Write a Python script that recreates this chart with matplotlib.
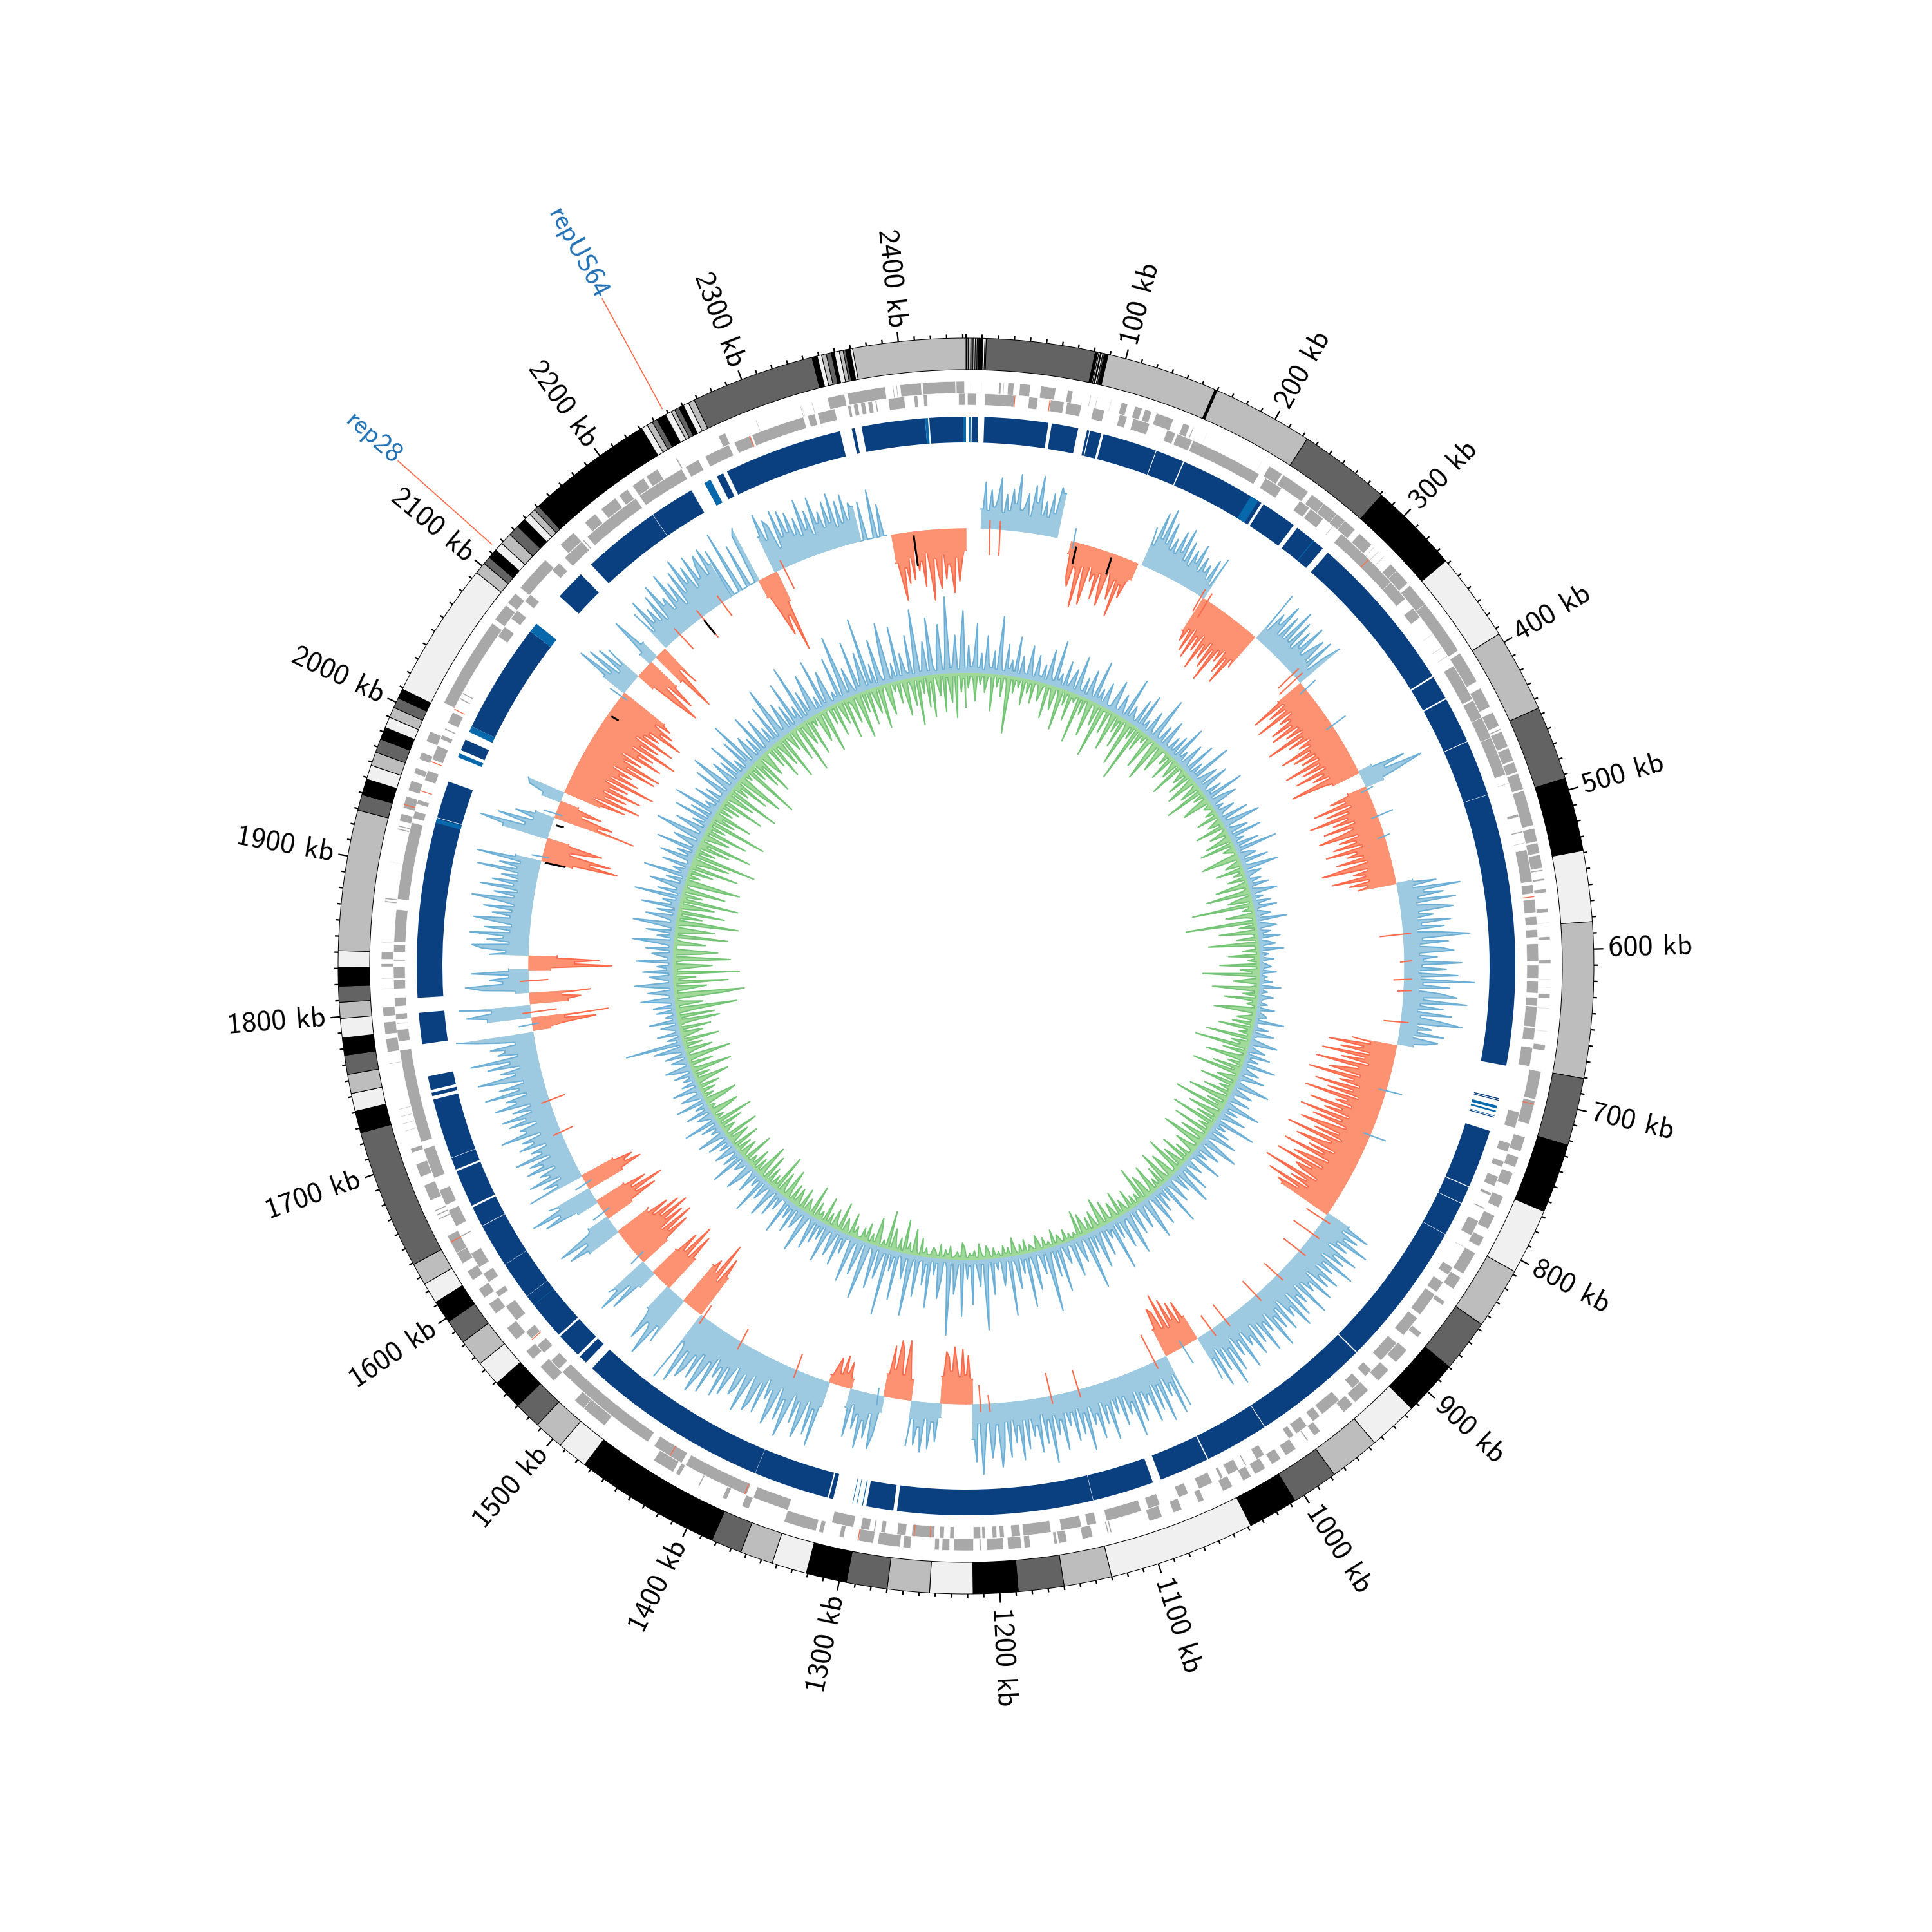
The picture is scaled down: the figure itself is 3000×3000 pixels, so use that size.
import numpy as np
import matplotlib
matplotlib.use("Agg")
import matplotlib.pyplot as plt

GENOME = 2442.0  # kb

# --- outer band: end of each stretch in kb and its shade (k black, d dark, m mid, l light)
band_ends = [0.8,1.5,3,4.5,5.8,7,8,10.5,11.8,12.6,
             80.7,
             82.3,83,84,84.5,85.5,86.5,87,88.9,
             158.5,160,223.3,
             281,338,394,446,492.5,538.6,583,680.6,723,766.6,808,846.6,879.7,914.4,945.6,977.4,1006.7,1038,1130,1160,1188.6,1216.6,
             1243.6,1270,1295.6,1321,1343,1363.6,1383,1474.8,1494,1513,1530,1549,1565,1582,1597.5,1611.8,1625,1639,
             1727,1740.7,1752,1764,1776,1786.8,1799,1809,1819,1830.8,1841,1929,1939,1949,1958,1966.6,1975.3,1983,1989.9,
             1996.5,2003,2009,2094.7,2102,2107,2113,2118.5,2126,2133,2139,2143.6,2147.6,2151,2231,
             2235,2238.7,2242,2248,2252,2254.5,2257.5,2260.5,2264,2268,
             2345.7,2349,2351.8,2354.7,2357.9,2359.8,2363,2365.4,2366.9,2369.8,2371.4,2442]
band_shades = ("klmdlmdklm"
               "d"
               "klmkldlk"
               "mkm"
               "dklmdklmdklmdklmdklmdk"
               "lmdklmdklmdklmdklm"
               "dklmdklmdklmdklmdklmdk"
               "lmdklmdklmdk"
               "lmdklmdklm"
               "dklmdklmdklm")

# --- blue contig ring, kb
contigs = [(4.1,8.6),(13,58.6),(61,80),(86.4,88),(88.6,96.7),(98.4,137.2),(137.7,158),(158.8,220.7),(222.5,248.4),
           (251.5,274.8),(279.5,394.2),(395.4,412.4),(413.4,446.6),(447.1,487),(487.3,681.4),(705,705.7),(706.2,706.8),
           (718.6,719.2),(729,771),(771.6,784),(784.4,808.7),(809,913.2),(914,997.2),(997.7,1043.4),(1044.2,1080),
           (1086,1130),(1130.3,1270),(1272.6,1292),(1316,1319),(1320,1374),(1374.2,1512),(1518,1524),(1526,1544),
           (1545.5,1580.8),(1581,1608),(1608.2,1639.6),(1640,1654.6),(1656,1682.6),(1684,1692.6),(1692.9,1736),
           (1738.5,1741),(1743,1752.8),(1776,1798.3),(1809,1937.6),(1938,1964.6),(1988.5,1996.6),(2007,2086),
           (2118.4,2140),(2150,2206),(2206.3,2238.5),(2259,2264),(2267,2352),(2360.5,2362.7),(2367.6,2413),(2416,2440)]
contigs_light = [(2,3.2),(211.7,218),(266,266.6),(710.5,712.5),(714,715.2),(717.7,718.1),(1294.4,1295),(1298.6,1299),
                 (1301.6,1302),(1573,1573.3),(1934,1937),(1983,1986),(2002.6,2007),(2086,2093),(2249,2254),(2413,2415),(2440,2442)]

# --- gene lanes, kb
genes_outer = [(3,3.3),(10,10.4),(22,23.5),(25,25.5),(28,32),(36,43),(50,60),(68,71.6),(83.5,84),(88,88.5),(97.6,98),
    (104.7,109),(114,119),(121,125.7),(129,141),(148,152.8),(155,155.8),(165,165.3),(206,206.3),(212,222),(223,243),
    (246,257),(256,271),(267,278),(274,283),(287,298),(300,300.5),(304,304.5),(309,309.5),(316,324),(322,333),(335,354),
    (351,389),(391,413),(418,432),(436,446),(448,449),(450,461),(462,471),(472,479),(480,491),(492,516),(518,527),(528,535),
    (536,545),(546,547),(552,553.4),(559,561.4),(572,574.6),(581.5,582),(591,593),(606.5,609),(619.3,619.7),(624.5,624.9),
    (629,632),(638.5,638.9),(653.9,654.3),(663,667),(681,700),(701,717),(726,736),(740,747),(751,760),(768,776),(782,792),
    (798,805),(810,826),(829,838),(848,851),(874,878),(889,900),(907,917),(926,938),(940,948),(968,973),(978,979),(988,996),
    (1000,1007),(1012,1020),(1023,1029),(1037,1044),(1058,1062),(1074,1080),(1088,1097),(1123,1124),(1125,1126),(1136,1143),
    (1153.5,1159),(1160,1162),(1178,1182),(1184,1193),(1196,1207),(1211,1212),(1216,1229),(1232,1237),(1239,1242),(1258,1263),
    (1265,1280),(1283,1293),(1303,1306),(1317,1320),(1322,1344),(1369,1374),(1385,1388),(1405,1406),(1420,1423),(1425,1440),
    (1480,1498),(1498,1506),(1525,1538),(1545,1552),(1562,1572),(1584,1592),(1597,1604),(1611,1618),(1624,1636),(1632,1645),
    (1657,1658),(1660,1661),(1663,1664),(1671,1682),(1688,1697),(1705,1708),(1720,1720.5),(1725,1725.5),(1730,1730.5),
    (1735,1735.5),(1766,1766.5),(1774,1783),(1786,1794),(1798,1804),(1816,1816.5),(1823,1823.5),(1831,1833),(1836,1841),
    (1847,1847.4),(1874,1875),(1876,1877),(1901,1901.3),(1923,1924),(1925,1926),(1929,1934),(1938,1946),(1950,1957),
    (1962,1966),(1972,1977),(1985,1992),(2013,2075),(2078,2090),(2092,2100),(2105,2130),(2144,2156),(2166,2175),(2180,2192),
    (2195,2202),(2206,2215),(2217,2226),(2240,2241),(2272,2277),(2299,2299.5),(2330,2330.5),(2331,2331.4),(2338,2338.5),
    (2349,2360.5),(2362.5,2388),(2393,2393.6),(2395.4,2396),(2398,2412),(2413,2435),(2435.5,2441)]
genes_inner = [(1,7),(13,33),(43,49),(57.7,67),(69,79),(87.3,95),(105.7,111),(115.4,127),(139.6,145.7),(147,158),(158.7,209),
    (214,227),(242,250),(251,262),(270,270.5),(278,327),(325,340),(348,356),(370,370.4),(381,381.5),(388,388.5),(396,422),
    (423,437),(436,452),(451,478),(484,484.5),(506,508),(518,519),(526,526.5),(531,553),(555,561),(565,574),(576.8,582.5),
    (585.7,591),(595.4,607.4),(610,619),(621,629),(632,637.7),(638,652),(652.8,661),(666,679),(711,722),(733,739),(746,750),
    (757,764),(769,771),(780,781),(790,801),(810,810.5),(826,832),(838,846),(848,865),(868,883),(890,906),(915,921),(926,933),
    (945,960),(962,968),(973,982),(984,988),(1008,1014),(1022,1023),(1028,1036),(1040,1042),(1048,1058),(1066,1073),
    (1086.6,1095),(1100,1124.5),(1131.6,1138),(1142,1156),(1163,1182),(1184,1190),(1195,1198),(1200,1203),(1208,1210),
    (1211,1216),(1229,1232),(1236,1239),(1242.6,1258),(1262,1268),(1276,1279),(1283,1284),(1287,1293),(1298,1313),(1344,1369),
    (1374,1420),(1423,1445),(1450,1525),(1528,1536),(1543,1550),(1556,1562),(1572,1584),(1592,1596),(1604,1611),(1616,1627),
    (1640,1641),(1648,1660),(1664,1675),(1684,1705),(1710,1774),(1780,1788),(1792,1792.5),(1795,1799),(1804,1810),(1816,1822),
    (1823,1831),(1835,1836),(1841,1846),(1848,1870),(1877,1930),(1933,1938),(1943,1946),(1960,1967),(1975,1985),(1990,1993),
    (1997,1998),(2002,2010),(2020,2021),(2024,2025),(2070,2078),(2085,2092),(2100,2106),(2128,2135),(2140,2156),(2157,2158),
    (2161,2203),(2206,2240),(2243,2253),(2258,2276),(2280,2292),(2293,2330),(2333,2338),(2340,2352),(2361,2363),(2365,2368),
    (2370,2373),(2375,2378),(2380,2381),(2389,2400),(2406.6,2409),(2413,2415.5),(2437,2441.5)]
genes_red_outer = [703,1293,1640,1940]
genes_red_inner = [33,57,303,563,1245,1256,1375,1432,1555,1952,1973,2012,2291]

# --- GC content track, one list of deviations per stretch
gc_starts = [13.7,95,160,223,281,338,432,447,537,681,844,1006,1037,1216,1244,1271,1295,1325,1345,1475,1493,1512,1530,1544,1579,
             1594,1611,1625,1637,1775,1787,1799,1809,1829,1841,1927,1947,1966,1982,1991,2094,2114,2129,2137,2148,2221,2251,2267,2349,2376]
gc_ends = [80.5,156,223,280,337,432,446,537,679,844,1005,1036,1215,1243,1270,1294,1324,1344,1474,1493,1512,1530,1544,1579,1594,
           1611,1625,1637,1773,1786,1797,1808,1828,1840,1925,1946,1965,1981,1990,2093,2113,2129,2136,2147,2221,2251,2267,2347,2370,2441]
gc_up = [True,False,True,False,True,False,True,False,True,False,True,False,True,False,True,False,True,False,True,False,True,False,
         True,False,True,False,True,False,True,False,True,False,True,False,True,False,True,False,True,False,True,False,True,False,
         True,True,False,True,True,False]
gc_values = [
 [30,72,28,60,34,45,80,26,55,30,64,42,88,33,38,60,25,74,48,90,30,52,28,66,36,78,70],
 [20,55,70,38,45,100,34,62,92,30,52,40,78,36,60,85,30,44,70,38,95,42,62,33,28],
 [62,35,90,50,100,46,82,40,60,38,76,44,85,34,68,30,58,40,72,30,56,34,48,26,62,20,70],
 [60,75,52,88,46,95,55,78,48,104,60,82,50,92,58,110,52,70,46,84,55,98,50,62],
 [85,20,55,40,78,26,65,28,85,30,72,25,62,35,80,30,48,68,28,75,22,55,80],
 [45,95,40,72,44,100,40,65,48,85,52,90,44,70,42,108,48,75,40,62,45,98,50,82,46,72,44,105,48,80,42,95,50,70,44,110,60,45],
 [22,75,40,100,60,30],
 [30,62,38,92,32,75,40,105,45,70,36,88,42,60,100,38,70,44,82,36,96,48,64,40,84,36,70,110,38,62,44,98,40,72,45,60],
 [26,62,24,98,40,70,30,88,25,55,82,28,50,24,76,30,65,22,60,104,30,70,25,58,78,24,52,30,90,28,66,22,84,26,110,30,72,24,58,
  84,32,100,28,64,24,78,30,60,96,26,50,28,70,22,62,45,25],
 [70,40,105,50,85,38,112,44,80,36,118,50,70,95,44,125,52,74,40,110,48,88,36,122,52,70,42,108,55,82,40,118,48,95,38,70,110,
  44,84,36,125,50,66,105,38,80,52,118,40,70,96,44,120,58,84,72,42,130,55,80,48,115,60,95,85],
 [40,78,35,66,44,90,38,60,28,84,46,68,30,92,40,62,34,80,48,70,30,85,44,58,35,92,30,62,44,78,30,90,50,65,28,80,36,70,44,95,
  30,60,40,88,34,66,28,80,44,58,30,90,38,62,28,82,40,100,32,70,28,90,40,74],
 [40,68,35,72,45,82,36,95,40,70,78,45],
 [85,30,92,40,60,28,96,35,74,30,88,42,58,35,80,30,100,44,62,32,76,28,55,30,92,36,64,28,84,44,60,30,98,38,70,28,78,32,52,30,
  88,40,62,30,104,36,72,25,84,42,58,30,76,30,92,38,64,28,86,30,70,100,34,60,85,30,55,110,30,90,55],
 [38,75,45,85,42,60,88,50,72,80,42],
 [22,60,30,72,25,78,40,68,28,70],
 [32,55,92,38,75,90,44,80,35],
 [25,62,85,30,70,44,88,36,60,22,75,30],
 [15,40,22,48,18,42,25,12],
 [40,105,48,90,38,70,100,44,80,36,62,108,50,85,34,70,98,44,62,30,88,40,76,92,36,58,100,40,68,80,36,54,88,44,96,50,70,40,
  102,52,78,110,48,92,56,84,100,58,115,60,50,120],
 [70,100,55,120,65,85,72],
 [80,55,112,70,62,95,55,45],
 [60,98,55,110,58,88,50],
 [30,80,40,95,60,70],
 [50,95,62,110,55,100,70,115,68,105,60,90,55,60],
 [55,85,50,95,40,35],
 [45,92,60,110,58,85,50],
 [35,88,60,105,55,70],
 [60,95,70,85,55],
 [90,40,62,30,80,44,58,30,75,46,66,30,85,40,55,28,70,45,62,30,92,50,58,30,72,44,80,32,60,30,85,50,65,30,95,40,70,30,55,100,
  40,62,30,80,44,105,30,60,48,70,30,55,90,120],
 [28,50,100,52,120],
 [68,100,60,110],
 [60,80,50,95],
 [20,72,98,40,60,30,88,30],
 [35,130,72,110,45],
 [60,35,72,88,30,65,40,92,30,70,28,52,88,32,60,30,75,28,48,95,30,62,26,85,34,68,28,55,30,95,34,62,30,100,40],
 [50,120,75,108,40,62,90,35],
 [72,110,40,85,30,60,30],
 [130,70,92,40,70,30],
 [30,55,60],
 [60,100,45,120,60,95,55,115,60,90,50,130,55,100,65,85,50,120,70,125,60,88,52,118,75,100,60,135,70,100,55,120,65,90,70,125,85,105,70,95,80],
 [40,90,35,80,25,70,30,60],
 [30,70,110,45,92,55],
 [20,80,30],
 [55,110,40,70],
 [70,30,85,40,62,35,78,30,90,50,60,35,95,42,72,30,85,45,100,55,80,40,92,50,70,85,48,90,60],
 [0,80,0,0,100,0,0,70,0,0,80,90],
 [30,55,100,70,130,50],
 [60,95,50,80,70,30,90,45,85,48,78,40,65,35,92,42,70,30,88,45,62,35,75,40,85,30,70,34,78,36,62,55],
 [0,60,0,0,75,0,50,0],
 [45,70,105,55,80,40,75,30,62,48,88,35,60,110,45,70,92,40,78,55,64,100,45,82,50,35]]

# thin red and blue spikes crossing the other colour, and the few black ones (kb, length)
gc_red_kb = [21,30,220,227,327,332,582,606,622,632,660,850,866,885,914,940,975,990,1048,1120,1145,1200,1208,1375,1430,1470,1680,1710,1790,1818,2165,2190,2212,2275]
gc_red_len = [40,40,25,30,30,35,35,5,15,8,25,30,35,30,25,28,28,25,45,30,35,12,28,25,22,20,20,25,40,30,30,40,25,35]
gc_blue_kb = [97,345,385,450,475,494,723,765,1020,1300,1550,1600,1630,1780,1930,1970,2090]
gc_blue_len = [20,20,25,10,25,8,25,25,30,15,15,20,18,20,15,18,20]
gc_black_kb = [100,133,2395,1925,1960,2070,2190]
gc_black_len = [25,25,45,30,10,10,25]

# --- GC skew track, above and below the ring
skew_above = [
 6,42,9,18,76,8,30,5,58,14,9,35,7,90,16,6,48,11,24,8,62,5,33,12,7,52,18,6,40,10,
 9,28,6,54,14,8,72,11,22,5,44,7,19,36,6,60,12,8,30,5,46,16,7,66,9,24,6,38,13,5,
 7,50,10,6,34,16,5,68,8,26,12,6,44,7,58,9,20,5,40,11,6,72,14,7,32,5,48,10,6,28,
 8,36,5,60,10,22,6,42,14,7,54,5,26,9,70,6,18,38,7,50,12,5,30,8,62,6,24,44,5,16,
 6,30,10,5,46,8,24,60,6,14,34,5,52,9,20,6,40,7,66,5,18,28,8,44,6,12,56,5,26,10,
 5,22,7,32,4,14,42,6,18,5,28,9,36,4,12,24,6,48,5,16,30,4,20,8,34,5,14,26,6,38,
 4,14,6,22,4,10,18,5,26,4,12,7,20,4,34,6,14,4,24,9,5,16,4,28,6,12,18,4,46,6,
 6,24,4,34,10,5,18,44,6,12,28,4,38,8,22,5,52,7,14,30,5,42,10,6,20,56,5,16,34,6,
 7,36,5,18,58,8,26,6,44,12,5,66,9,22,6,32,5,50,14,7,28,62,5,18,40,6,24,8,54,5,
 5,30,12,6,50,8,20,64,6,34,10,5,44,16,7,72,5,26,9,38,6,56,12,5,30,68,7,18,42,6,
 8,44,5,26,70,9,16,52,6,32,5,80,12,24,7,48,5,18,62,8,34,6,88,14,5,40,22,6,58,10,
 6,34,16,5,74,8,48,6,24,100,7,38,12,5,60,20,6,84,9,30,5,52,14,7,92,6,26,44,5,18,
 7,56,5,28,110,8,42,16,6,70,10,30,5,88,7,22,54,6,118,14,5,36,62,8,26,5,78,12,44,6,
 9,64,6,24,96,7,40,14,5,76,10,32,6,104,8,20,50,5,68,12,6,38,90,5,28,56,7,16,72,6,
 6,32,10,54,5,22,44,7,14,60,5,28,8,38,6,52,12,5,24,66,6,18,34,5,46,9,28,6,58,5,
 5,26,8,42,4,16,52,6,12,32,5,62,7,20,5,38,10,4,28,48,6,14,22,4,56,8,30,5,18,36,
 4,22,6,36,4,12,46,5,18,8,30,4,54,6,14,26,4,40,7,20,5,48,4,16,34,6,10,42,4,24,
 5,18,8,30,4,22,40,5,12,26,4,34,6,16,48,5,90,8,22,4,36,6,14,28,4,44,7,18,5,30,
 6,34,5,20,52,7,14,40,5,28,60,6,18,36,5,46,9,24,5,56,7,16,32,5,42,6,22,64,5,26,
 7,44,5,24,66,8,18,48,6,32,5,58,12,26,6,72,5,38,9,20,54,6,30,5,68,10,24,6,44,5,
 6,52,9,28,5,64,7,20,42,5,34,76,6,16,50,5,26,8,60,6,38,5,70,12,22,6,46,5,32,7,
 8,58,5,30,72,6,18,46,5,38,9,64,6,24,5,54,12,80,6,28,44,5,34,7,68,5,20,52,8,30,
 7,62,5,34,86,9,22,50,6,40,5,74,12,28,6,92,5,44,10,32,66,6,24,5,80,8,36,56,5,18,
 9,70,6,30,100,7,44,16,5,82,10,26,60,6,112,8,36,5,72,14,6,50,94,5,28,7,84,6,40,12,
 8,66,5,34,104,7,24,52,6,88,12,5,42,76,6,30,118,8,20,58,5,44,96,6]
skew_below = [
 4,24,6,12,44,5,18,4,30,8,5,58,4,20,7,34,4,14,90,5,26,6,16,4,42,5,22,7,36,4,
 5,30,8,4,54,6,18,38,4,12,66,5,24,4,46,9,14,4,76,6,28,4,20,58,5,10,36,4,84,7,
 6,40,4,18,62,5,28,8,50,4,14,74,6,24,4,92,5,34,7,16,4,56,10,4,30,68,5,20,44,4,
 4,22,6,44,4,14,32,5,58,4,10,26,7,40,4,18,50,5,12,34,4,64,6,20,4,28,46,5,14,8,
 4,18,6,36,4,12,24,5,48,4,8,30,6,16,42,4,54,5,20,10,4,34,60,5,14,26,4,44,7,18,
 5,30,4,16,52,6,12,70,4,24,38,5,96,8,18,4,46,14,5,110,6,28,4,60,10,5,34,4,78,7,
 6,26,4,48,8,18,5,62,4,30,12,88,5,20,40,4,14,72,6,24,4,52,8,16,4,36,66,5,12,28,
 5,34,4,54,8,20,6,70,4,28,14,84,5,38,4,18,62,6,24,4,46,10,76,5,16,32,4,56,7,22,
 6,44,4,20,64,5,30,10,80,4,18,52,6,34,4,72,8,22,5,60,4,14,42,6,28,66,4,12,36,5,
 4,28,6,48,4,16,36,5,60,8,4,24,42,5,14,54,4,32,6,18,4,46,10,5,26,38,4,58,7,16,
 4,18,6,32,4,10,22,5,40,4,14,28,6,8,36,4,20,46,5,12,30,4,24,6,16,34,4,42,5,10,
 3,12,5,20,3,8,16,4,26,3,10,6,18,3,14,24,4,8,12,3,22,5,16,3,10,28,4,14,6,18,
 3,10,5,16,3,12,20,4,8,24,3,14,6,10,3,18,26,4,12,5,3,20,8,14,3,22,4,10,16,5,
 4,14,6,28,3,10,40,4,18,8,52,3,22,5,14,34,4,60,6,12,3,26,44,5,16,3,30,8,20,4,
 4,18,8,36,3,14,24,4,46,6,12,30,3,20,5,42,4,16,8,26,3,50,5,12,22,4,34,3,14,28,
 5,30,4,16,48,6,12,36,4,60,8,20,4,28,5,44,3,14,54,6,24,4,34,8,18,4,50,5,12,30,
 4,26,6,44,3,14,34,5,54,4,10,22,6,38,4,60,5,16,4,28,46,6,12,4,32,52,5,18,4,24,
 5,34,4,18,54,6,26,4,64,10,5,38,4,22,70,5,14,44,4,30,6,58,4,18,36,5,50,4,12,66,
 8,60,5,30,96,7,44,14,5,76,110,6,24,52,5,86,10,36,5,104,8,28,62,6,18,90,5,42,70,6,
 6,50,12,5,84,7,30,62,5,20,98,6,40,8,74,5,26,56,6,92,10,34,5,68,14,6,46,88,5,22,
 6,40,5,78,10,24,60,5,100,7,32,5,52,14,84,6,20,44,5,70,9,30,6,94,5,38,16,62,5,26,
 5,34,7,70,5,20,48,6,86,4,28,12,58,5,40,76,6,16,5,92,8,30,5,50,14,66,5,24,42,6,
 5,36,4,60,8,20,46,5,74,6,14,32,4,54,10,5,80,6,24,40,4,62,8,18,5,48,34,5,70,6,
 4,30,6,52,5,18,38,4,64,8,14,44,5,26,72,4,34,6,56,5,20,42,4,68,10,5,30,50,4,16,
 5,36,4,22,58,6,14,44,5,76,8,28,4,50,12,66,5,18,34,4,60,7,24,46,5,70,4,30,10,54]

kb_labels = np.arange(100, 2401, 100)

fig = plt.figure(figsize=(10, 10), dpi=300)
ax = fig.add_axes([0, 0, 1, 1], projection="polar")
ax.set_theta_zero_location("N")
ax.set_theta_direction(-1)
ax.set_autoscale_on(False)
ax.set_ylim(0, 1500)
ax.axis("off")


def rad(kb):
    return np.deg2rad(np.asarray(kb, dtype=float) / GENOME * 360)


def arc(start, end, r0, r1, color, **kw):
    ax.bar(rad(start), r1 - r0, width=rad(end - start), bottom=r0, align="edge", color=color, **kw)


def spikes(start, end, vals):
    # troughs are held flat over most of a window, so the peaks come out narrow
    v = np.array(vals, dtype=float)
    x = np.linspace(start, end, len(v))
    dx = x[1] - x[0]
    xs, ys = [], []
    for i in range(len(v)):
        left = v[i - 1] if i > 0 else v[i] + 1
        right = v[i + 1] if i < len(v) - 1 else v[i] + 1
        if v[i] <= left and v[i] <= right:
            xs += [x[i] - 0.38 * dx, x[i] + 0.38 * dx]
            ys += [v[i], v[i]]
        else:
            xs.append(x[i])
            ys.append(v[i])
    return np.array(xs), np.array(ys)


def track(start, end, vals, base, sign, fill, line, band, z=2):
    xs, ys = spikes(start, end, vals)
    th = rad(xs)
    ax.fill_between(th, base, base + sign * ys, color=fill, linewidth=0, zorder=z)
    ax.plot(th, base + sign * ys, color=line, lw=0.5, zorder=z + 0.1)
    # the solid band hides the line near the ring
    ax.fill_between(th, base, base + sign * np.minimum(ys, band), color=fill, linewidth=0, zorder=z + 0.2)


# outer band
greys = {"k": "#000000", "d": "#636363", "m": "#bdbdbd", "l": "#f0f0f0"}
starts = [0] + band_ends[:-1]
for s, e, c in zip(starts, band_ends, band_shades):
    arc(s, e, 926, 975, greys[c], edgecolor="black", linewidth=0.25)

# ticks and labels
for kb in np.arange(0, GENOME, 10):
    L = 15 if kb % 100 == 0 and kb > 0 else 6
    ax.plot(rad([kb, kb]), [975, 975 + L], color="black", lw=0.55, solid_capstyle="butt")
for kb in kb_labels:
    deg = kb / GENOME * 360
    right = deg <= 180
    ax.text(rad(kb), 998, f"{kb} kb", rotation=90 - deg if right else 270 - deg, rotation_mode="anchor",
            ha="left" if right else "right", va="center", fontsize=11, family="cmss10")

# genes
for s, e in genes_outer:
    arc(s, e, 889.5, 908, "#a8a8a8", edgecolor="white", linewidth=0.15)
for s, e in genes_inner:
    arc(s, e, 871, 889, "#a8a8a8", edgecolor="white", linewidth=0.15)
for kb in genes_red_outer:
    arc(kb, kb + 0.6, 889.5, 908, "#fb6a4a", linewidth=0)
for kb in genes_red_inner:
    arc(kb, kb + 0.6, 871, 889, "#fb6a4a", linewidth=0)

# contigs
for s, e in contigs:
    arc(s, e, 813, 853, "#0a3f80", linewidth=0)
for s, e in contigs_light:
    arc(s, e, 813, 853, "#0868ac", linewidth=0)

# GC content
GC_BASE = 680
for s, e, up, vals in zip(gc_starts, gc_ends, gc_up, gc_values):
    fill, line = ("#9ecae1", "#6baed6") if up else ("#fc9272", "#fb6a4a")
    track(s, e, vals, GC_BASE, 1 if up else -1, fill, line, band=np.percentile(vals, 20))
for kb, d in zip(gc_red_kb, gc_red_len):
    ax.plot(rad([kb, kb + 1]), [GC_BASE + 12, GC_BASE - d], color="#fb6a4a", lw=0.5, zorder=3)
for kb, d in zip(gc_blue_kb, gc_blue_len):
    ax.plot(rad([kb, kb - 1]), [GC_BASE - 10, GC_BASE + d], color="#6baed6", lw=0.5, zorder=3)
for kb, d in zip(gc_black_kb, gc_black_len):
    ax.plot(rad([kb, kb + 0.5]), [GC_BASE - 8, GC_BASE - 8 - d], color="black", lw=0.7, zorder=3)

# GC skew, green under blue
SKEW_BASE = 456
track(0, GENOME, skew_below, SKEW_BASE, -1, "#a1d99b", "#74c476", band=5, z=4)
track(0, GENOME, skew_above, SKEW_BASE, 1, "#9ecae1", "#6baed6", band=7, z=5)

# labelled genes
for name, kb in [("rep28", 2114), ("repUS64", 2248)]:
    deg = kb / GENOME * 360
    ax.plot(rad([kb, kb]), [986, 1180], color="#fb6a4a", lw=0.4)
    ax.text(rad(kb), 1182, name, rotation=270 - deg, rotation_mode="anchor", ha="right", va="center",
            fontsize=10.5, color="#2171b5", family="cmss10")

fig.savefig("out.png", dpi=300, facecolor="white")
